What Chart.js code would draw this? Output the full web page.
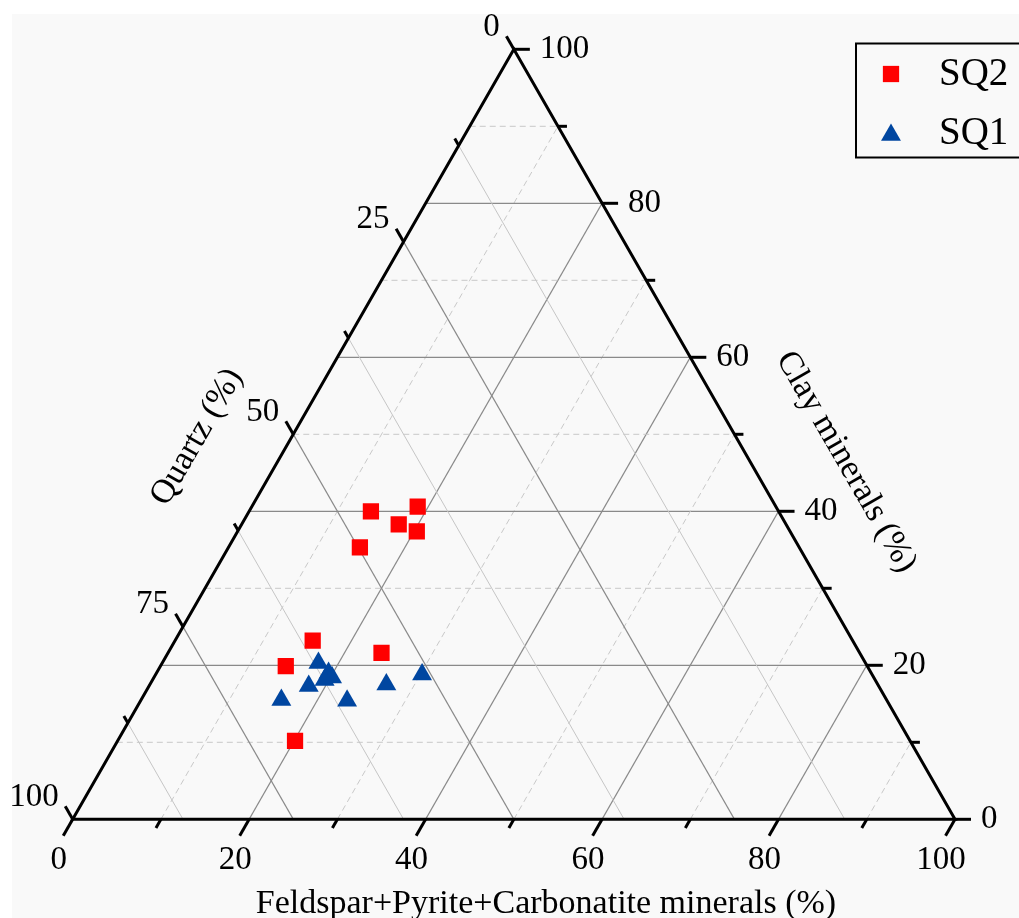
<!DOCTYPE html>
<html>
<head>
<meta charset="utf-8">
<script src="https://cdn.jsdelivr.net/npm/chart.js@4/dist/chart.umd.min.js"></script>
<style>
  html, body { margin: 0; padding: 0; background: #fff; }
  canvas { display: block; }
</style>
</head>
<body>
<canvas id="ternary" width="1019" height="918"></canvas>
<script>
// compositions in % (quartz = 100 - feldspar - clay)
const sq2Feldspar = [13.8, 18.8, 17.8, 20.3, 14.9, 15.6, 24.2, 14.2, 20.1];
const sq2Clay     = [40.0, 40.6, 38.3, 37.4, 35.3, 23.2, 21.6, 19.9, 10.2];
const sq1Feldspar = [17.7, 19.5, 20.2, 19.5, 18.1, 15.9, 23.4, 26.8, 30.2];
const sq1Clay     = [20.3, 19.0, 18.4, 18.1, 17.3, 15.5, 15.4, 17.5, 18.8];

const feldsparTicks = [0, 20, 40, 60, 80, 100];
const clayTicks = [0, 20, 40, 60, 80, 100];
const quartzTicks = [0, 25, 50, 75, 100];

const seriesNames = ['SQ2', 'SQ1'];
const seriesColors = ['#ff0000', '#0046a0'];
const seriesStyles = ['rect', 'triangle'];

const FONT = '"Liberation Serif", "Times New Roman", serif';

// ternary -> cartesian values for the hidden x/y scales
function toXY(f, c) {
  return { x: f + c / 2, y: c };
}

const ternaryPlugin = {
  id: 'ternary',
  beforeDraw(chart) {
    const ctx = chart.ctx;
    ctx.save();
    ctx.fillStyle = '#fff';
    ctx.fillRect(0, 0, chart.width, chart.height);
    ctx.fillStyle = '#f9f9f9';
    ctx.fillRect(12, 14, chart.width - 12, chart.height - 14);
    ctx.restore();
  },
  beforeDatasetsDraw(chart) {
    const { ctx, scales: { x, y } } = chart;
    const P = (f, c) => [x.getPixelForValue(f + c / 2), y.getPixelForValue(c)];
    const line = (a, b) => {
      ctx.beginPath();
      ctx.moveTo(a[0], a[1]);
      ctx.lineTo(b[0], b[1]);
      ctx.stroke();
    };
    ctx.save();

    // grid: clay (horizontal) and feldspar (parallel to left edge)
    for (let v = 10; v < 100; v += 10) {
      const major = v % 20 === 0;
      ctx.strokeStyle = major ? '#8a8a8a' : '#c9c9c9';
      ctx.lineWidth = major ? 1.3 : 1;
      ctx.setLineDash(major ? [] : [6, 4]);
      line(P(0, v), P(100 - v, v));
      line(P(v, 0), P(v, 100 - v));
    }
    ctx.setLineDash([]);
    // quartz lines (parallel to right edge)
    for (let q = 12.5; q < 100; q += 12.5) {
      const major = q % 25 === 0;
      ctx.strokeStyle = major ? '#8a8a8a' : '#c6c6c6';
      ctx.lineWidth = major ? 1.3 : 1;
      line(P(0, 100 - q), P(100 - q, 0));
    }

    const BL = P(0, 0), BR = P(100, 0), TOP = P(0, 100);
    const unit = (a, b) => {
      const dx = b[0] - a[0], dy = b[1] - a[1], l = Math.hypot(dx, dy);
      return [dx / l, dy / l];
    };
    const dBottom = unit(TOP, BL);  // bottom ticks point down-left
    const dLeft = unit(BR, TOP);    // left ticks point up-left

    ctx.strokeStyle = '#000';
    ctx.lineWidth = 3;
    ctx.lineCap = 'butt';
    // ticks
    for (let f = 0; f <= 100; f += 10) {
      const p = P(f, 0), len = f % 20 === 0 ? 19 : 10;
      line(p, [p[0] + dBottom[0] * len, p[1] + dBottom[1] * len]);
    }
    for (let c = 0; c <= 100; c += 10) {
      const p = P(100 - c, c), len = c % 20 === 0 ? 16 : 9;
      line(p, [p[0] + len, p[1]]);
    }
    for (let q = 0; q <= 100; q += 12.5) {
      const p = P(0, 100 - q), len = q % 25 === 0 ? 15 : 8;
      line(p, [p[0] + dLeft[0] * len, p[1] + dLeft[1] * len]);
    }
    // triangle edges
    ctx.lineJoin = 'miter';
    ctx.beginPath();
    ctx.moveTo(BL[0], BL[1]);
    ctx.lineTo(BR[0], BR[1]);
    ctx.lineTo(TOP[0], TOP[1]);
    ctx.closePath();
    ctx.stroke();

    // tick labels
    ctx.fillStyle = '#000';
    ctx.font = '33px ' + FONT;
    ctx.textBaseline = 'middle';
    ctx.textAlign = 'center';
    feldsparTicks.forEach(f => {
      const p = P(f, 0);
      ctx.fillText(String(f), p[0] - 14, p[1] + 41);
    });
    ctx.textAlign = 'left';
    clayTicks.forEach(c => {
      const p = P(100 - c, c);
      ctx.fillText(String(c), p[0] + 26, p[1]);
    });
    ctx.textAlign = 'right';
    quartzTicks.forEach(q => {
      const p = P(0, 100 - q);
      ctx.fillText(String(q), p[0] - 14, p[1] - 22);
    });

    // axis titles
    ctx.font = '34px ' + FONT;
    ctx.textAlign = 'center';
    ctx.textBaseline = 'alphabetic';
    ctx.fillText('Feldspar+Pyrite+Carbonatite minerals (%)', 546, 913);
    ctx.textBaseline = 'middle';
    ctx.save();
    ctx.translate(197, 437);
    ctx.rotate(-Math.PI / 3);
    ctx.fillText('Quartz (%)', 0, 0);
    ctx.restore();
    ctx.save();
    ctx.translate(846, 462);
    ctx.rotate(Math.PI / 3);
    ctx.fillText('Clay minerals (%)', 0, 0);
    ctx.restore();

    ctx.restore();
  },
  afterDraw(chart) {
    // boxed legend, top right
    const ctx = chart.ctx;
    ctx.save();
    ctx.strokeStyle = '#000';
    ctx.lineWidth = 2;
    ctx.strokeRect(856, 43.5, 180, 114);
    ctx.font = '39px ' + FONT;
    ctx.textAlign = 'left';
    ctx.textBaseline = 'middle';
    const rows = [74, 132.5];
    chart.data.datasets.forEach((ds, i) => {
      ctx.fillStyle = ds.backgroundColor;
      const yOff = ds.pointStyle === 'triangle' ? 2.5 : 0;
      Chart.helpers.drawPoint(ctx, {
        pointStyle: ds.pointStyle, radius: 11.5, rotation: 0, borderWidth: 0
      }, 891, rows[i] + yOff);
      ctx.fillStyle = '#000';
      ctx.fillText(ds.label, 939, rows[i] + 1);
    });
    ctx.restore();
  }
};

const datasets = [
  { f: sq2Feldspar, c: sq2Clay },
  { f: sq1Feldspar, c: sq1Clay }
].map((s, i) => ({
  label: seriesNames[i],
  data: s.f.map((f, k) => toXY(f, s.c[k])),
  pointStyle: seriesStyles[i],
  backgroundColor: seriesColors[i],
  borderColor: seriesColors[i],
  borderWidth: 0,
  pointRadius: 11.5,
  pointHoverRadius: 11.5
}));

new Chart(document.getElementById('ternary'), {
  type: 'scatter',
  data: { datasets: datasets },
  options: {
    responsive: false,
    animation: false,
    devicePixelRatio: 1,
    layout: { padding: { left: 72.7, right: 64, top: 49.3, bottom: 98.7 } },
    scales: {
      x: { type: 'linear', min: 0, max: 100, display: false },
      y: { type: 'linear', min: 0, max: 100, display: false }
    },
    plugins: {
      legend: { display: false },
      tooltip: { enabled: false }
    }
  },
  plugins: [ternaryPlugin]
});
</script>
</body>
</html>
